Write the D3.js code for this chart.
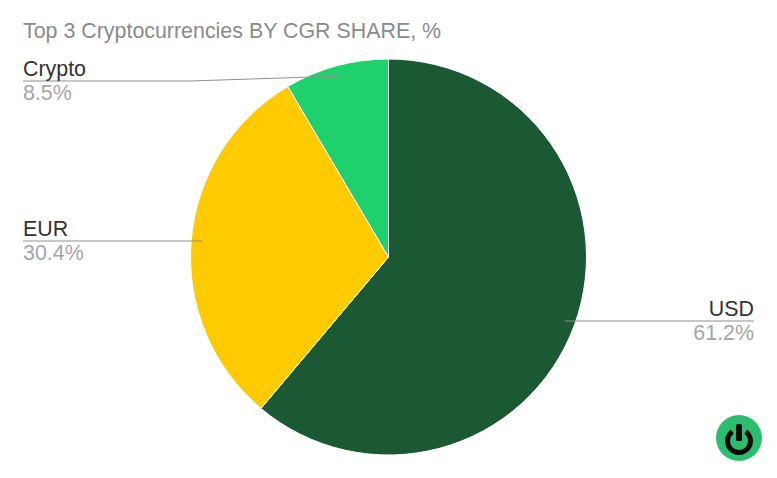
<!DOCTYPE html>
<html>
<head>
<meta charset="utf-8">
<script src="https://cdn.jsdelivr.net/npm/d3@7"></script>
<style>
  html, body { margin: 0; padding: 0; background: #fff; }
  text { font-family: "Liberation Sans", Arial, sans-serif; }
</style>
</head>
<body>
<svg id="canvas" width="777" height="478"></svg>
<script>
var title = 'Top 3 Cryptocurrencies BY CGR SHARE, %'
var categories = ['USD', 'EUR', 'Crypto']
var shares = [61.2, 30.4, 8.5]
var colors = ['#1a5934', '#fecb00', '#1fd16c']

var cx = 388.5, cy = 257, radius = 198
var leaderRadius = 187.5
var fontSize = 21.4
// where each label's line sits, left or right edge of the chart
var labelLayout = [
    { lineY: 321, side: 'right' },
    { lineY: 241, side: 'left' },
    { lineY: 81, side: 'left', bendX: 190 }
]
var leftEdge = 23, rightEdge = 754

var svg = d3.select('#canvas')

svg.append('text')
    .attr('x', leftEdge)
    .attr('y', 38)
    .attr('font-size', fontSize)
    .attr('fill', '#8b8b8b')
    .text(title)

var pie = d3.pie().sort(null).value(d => d)
var arcs = pie(shares)
var arc = d3.arc().innerRadius(0).outerRadius(radius)
var leaderArc = d3.arc().innerRadius(leaderRadius).outerRadius(leaderRadius)

var chart = svg.append('g').attr('transform', `translate(${cx},${cy})`)

chart.selectAll('path')
    .data(arcs)
    .join('path')
    .attr('d', arc)
    .attr('fill', (d, i) => colors[i])
    .attr('stroke', '#fff')
    .attr('stroke-width', 1)

// leader lines + labels
arcs.forEach(function (d, i) {
    var layout = labelLayout[i]
    var p = leaderArc.centroid(d)
    var start = [cx + p[0], cy + p[1]]
    var edge = layout.side === 'left' ? leftEdge : rightEdge
    var pts = [start]
    if (layout.bendX) pts.push([layout.bendX, layout.lineY])
    else pts[0] = [start[0], layout.lineY]
    pts.push([edge, layout.lineY])

    svg.append('path')
        .attr('d', d3.line()(pts))
        .attr('fill', 'none')
        .attr('stroke', '#8f8f8f')
        .attr('stroke-width', 1)

    var anchor = layout.side === 'left' ? 'start' : 'end'
    svg.append('text')
        .attr('x', edge)
        .attr('y', layout.lineY - 5)
        .attr('text-anchor', anchor)
        .attr('font-size', fontSize)
        .attr('fill', '#333')
        .text(categories[i])
    svg.append('text')
        .attr('x', edge)
        .attr('y', layout.lineY + 18.5)
        .attr('text-anchor', anchor)
        .attr('font-size', fontSize)
        .attr('fill', '#a6a6a6')
        .text(shares[i].toFixed(1) + '%')
})

// logo bottom right
var logo = svg.append('g').attr('transform', 'translate(739,438)')
logo.append('circle').attr('r', 23).attr('fill', '#2dbd6e')
logo.append('path')
    .attr('d', d3.arc().innerRadius(9).outerRadius(14).startAngle(0.62).endAngle(2 * Math.PI - 0.62)())
    .attr('transform', 'translate(0,3)')
    .attr('fill', '#030a06')
logo.append('rect')
    .attr('x', -3).attr('y', -14)
    .attr('width', 6).attr('height', 17)
    .attr('rx', 1.5)
    .attr('fill', '#030a06')
</script>
</body>
</html>
